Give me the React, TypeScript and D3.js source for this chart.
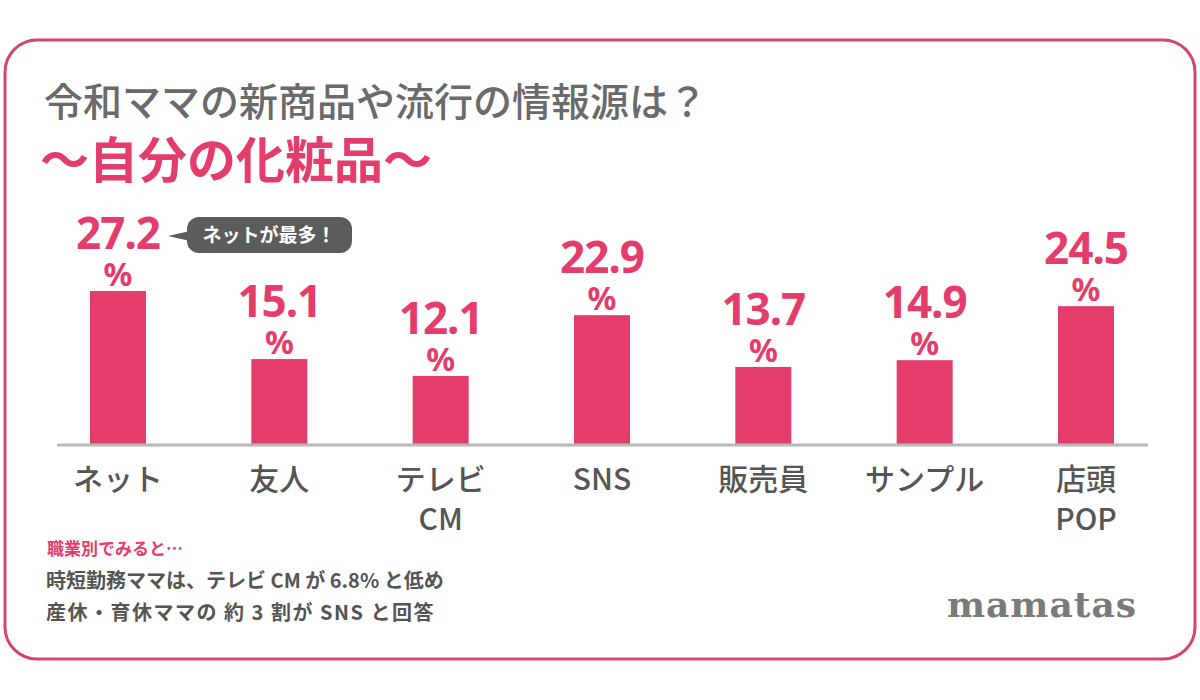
import React from "react";
import * as d3 from "d3";

const categories = ["ネット", "友人", "テレビ\nCM", "SNS", "販売員", "サンプル", "店頭\nPOP"];
const values = [27.2, 15.1, 12.1, 22.9, 13.7, 14.9, 24.5];
const title = "令和ママの新商品や流行の情報源は？";
const subtitle = "〜自分の化粧品〜";
const callout = "ネットが最多！";
const notes = ["時短勤務ママは、テレビ CM が 6.8% と低め", "産休・育休ママの 約 3 割が SNS と回答"];

const PINK = "#e43d6b";
const GRAY = "#555555";
const JP = "'Noto Sans CJK JP', 'Noto Sans', sans-serif";

export default function App() {
  const W = 1200, H = 700;
  const base = 444;
  const x = d3.scalePoint<string>().domain(categories).range([118, 1086]);
  const y = d3.scaleLinear().domain([0, 30]).range([base, base - 168.75]);
  const bw = 56;

  const top0 = y(values[0]);
  const cx0 = x(categories[0])!;

  return (
    <svg width={W} height={H} style={{ position: "absolute", left: 0, top: 0 }}>
      <rect x={0} y={0} width={W} height={H} fill="#fff" />
      <rect x={5} y={40} width={1190} height={619} rx={32} fill="#fff" stroke="#d5466f" strokeWidth={3} />

      <text x={44} y={116} fontFamily={JP} fontSize={39} fontWeight={500} fill="#6a6a6a">{title}</text>
      <text x={40} y={178} fontFamily={JP} fontSize={49} fontWeight={700} fill={PINK}>{subtitle}</text>

      {/* bars */}
      <g>
        {categories.map((c, i) => (
          <rect key={c} x={x(c)! - bw / 2} y={y(values[i])} width={bw} height={base - y(values[i])} fill={PINK} />
        ))}
      </g>
      <line x1={57} x2={1148} y1={base + 1} y2={base + 1} stroke="#b8b8b8" strokeWidth={3} />

      {/* value labels */}
      {categories.map((c, i) => (
        <g key={"v" + c} fill={PINK} fontFamily="'Noto Sans', sans-serif" fontWeight={700} textAnchor="middle">
          <text x={x(c)} y={y(values[i]) - 42} fontSize={44} letterSpacing={-1}>{values[i].toFixed(1)}</text>
          <text x={x(c)} y={y(values[i]) - 5} fontSize={32}>%</text>
        </g>
      ))}

      {/* callout */}
      <g>
        <path d={`M${cx0 + 50},${top0 - 55} L${cx0 + 72},${top0 - 60} L${cx0 + 72},${top0 - 50} Z`} fill="#5c5c5c" />
        <rect x={cx0 + 69} y={top0 - 74} width={165} height={36} rx={12} fill="#5c5c5c" />
        <text x={cx0 + 151} y={top0 - 49} textAnchor="middle" fontFamily={JP} fontSize={19} fontWeight={700} fill="#fff">{callout}</text>
      </g>

      {/* category labels */}
      {categories.map((c) => (
        <text key={"c" + c} x={x(c)} textAnchor="middle" fontFamily={JP} fontSize={30} fontWeight={500} fill={GRAY}>
          {c.split("\n").map((ln, j) => (
            <tspan key={j} x={x(c)} y={490 + j * 40}>{ln}</tspan>
          ))}
        </text>
      ))}

      {/* notes */}
      <text x={47} y={555} fontFamily={JP} fontSize={17} fontWeight={700} fill={PINK}>職業別でみると…</text>
      {notes.map((n, i) => (
        <text key={n} x={46} y={588 + i * 32} fontFamily={JP} fontSize={20} fontWeight={700} fill={GRAY} letterSpacing={i === 1 ? 1.5 : 0}>{n}</text>
      ))}

      <text x={1137} y={617} textAnchor="end" fontFamily="'DejaVu Serif', serif" fontSize={36} fontWeight={700} fill="#7a7a7a" letterSpacing={1}>mamatas</text>
    </svg>
  );
}
